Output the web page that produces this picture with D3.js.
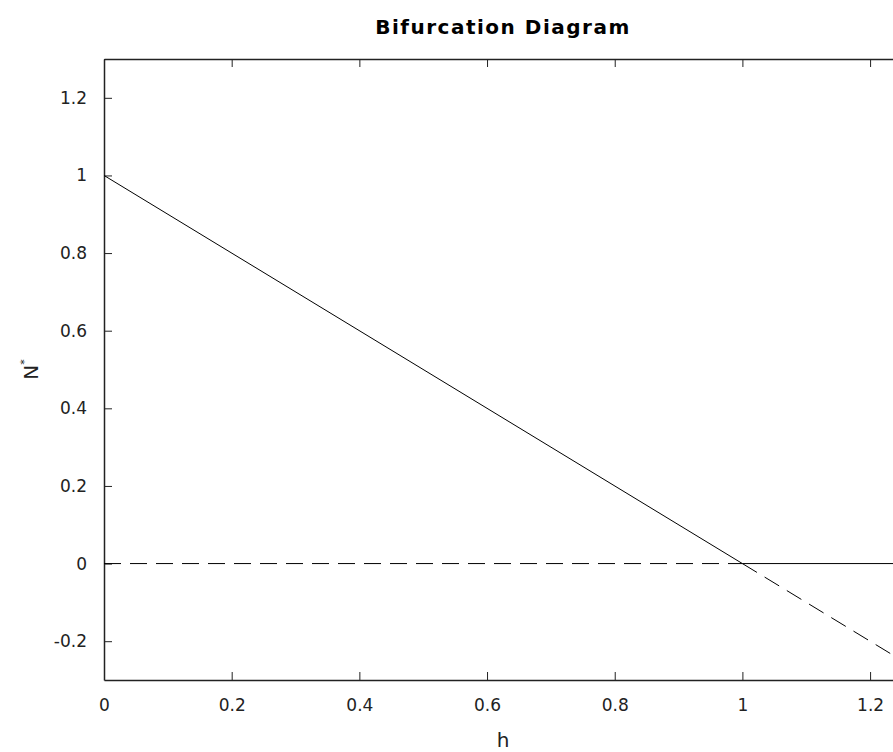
<!DOCTYPE html>
<html>
<head>
<meta charset="utf-8">
<script src="https://cdn.jsdelivr.net/npm/d3@7"></script>
<style>
  body { margin: 0; background: #fff; }
  svg { display: block; font-family: "DejaVu Sans", sans-serif; }
  .axis path, .axis line { stroke: #222; }
  .axis text { font-size: 17px; fill: #222; font-family: "DejaVu Sans", sans-serif; }
</style>
</head>
<body>
<div id="chart"></div>
<script>
/* bifurcation diagram: N* = 1 - h and N* = 0, stability swaps at h = 1 */

// branch data (h, N*)
const stableH = [0, 1],      stableN = [1, 0];       // N* = 1 - h, stable for h < 1
const unstableH = [1, 1.25], unstableN = [0, -0.25]; // N* = 1 - h, unstable for h > 1
const zeroUnstableH = [0, 1],    zeroUnstableN = [0, 0];
const zeroStableH = [1, 1.25],   zeroStableN = [0, 0];

const xTicks = [0, 0.2, 0.4, 0.6, 0.8, 1, 1.2];
const yTicks = [-0.2, 0, 0.2, 0.4, 0.6, 0.8, 1, 1.2];

let width = 893,
    height = 752,
    margin = ({ top: 59, right: -9, bottom: 72, left: 104 });

const svg = d3.select("#chart")
  .append("svg")
  .attr("width", width)
  .attr("height", height);

let x = d3.scaleLinear()
  .domain([0, 1.25])
  .range([margin.left, width - margin.right]);

let y = d3.scaleLinear()
  .domain([-0.3, 1.3])
  .range([height - margin.bottom, margin.top]);

let fmt = d => d === 0 ? "0" : String(d);

// bottom axis
svg.append("g")
  .attr("class", "axis")
  .attr("transform", `translate(0,${y(-0.3)})`)
  .call(d3.axisBottom(x).tickValues(xTicks).tickFormat(fmt).tickSizeInner(-8).tickSizeOuter(0).tickPadding(19))
  .call(g => g.select(".domain").attr("stroke-width", 1.5));

// top axis (ticks only)
svg.append("g")
  .attr("class", "axis")
  .attr("transform", `translate(0,${y(1.3)})`)
  .call(d3.axisTop(x).tickValues(xTicks).tickFormat("").tickSizeInner(-8).tickSizeOuter(0))
  .call(g => g.select(".domain").attr("stroke-width", 1.5));

// left axis
svg.append("g")
  .attr("class", "axis")
  .attr("transform", `translate(${x(0)},0)`)
  .call(d3.axisLeft(y).tickValues(yTicks).tickFormat(fmt).tickSizeInner(-8).tickSizeOuter(0).tickPadding(17))
  .call(g => g.select(".domain").attr("stroke-width", 1.5));

// right axis
svg.append("g")
  .attr("class", "axis")
  .attr("transform", `translate(${x(1.25)},0)`)
  .call(d3.axisRight(y).tickValues(yTicks).tickFormat("").tickSizeInner(-8).tickSizeOuter(0))
  .call(g => g.select(".domain").attr("stroke-width", 1.5));

let line = d3.line()
  .x(d => x(d[0]))
  .y(d => y(d[1]));

let branches = [
  { h: stableH, n: stableN, dash: null },
  { h: unstableH, n: unstableN, dash: "17,9" },
  { h: zeroUnstableH, n: zeroUnstableN, dash: "17,9" },
  { h: zeroStableH, n: zeroStableN, dash: null }
];

for (let b of branches) {
  svg.append("path")
    .datum(d3.zip(b.h, b.n))
    .attr("fill", "none")
    .attr("stroke", "#000")
    .attr("stroke-width", 1)
    .attr("stroke-dasharray", b.dash)
    .attr("d", line);
}

// title and labels
svg.append("text")
  .text("Bifurcation Diagram")
  .attr("x", (x(0) + x(1.25)) / 2)
  .attr("y", 34)
  .attr("text-anchor", "middle")
  .attr("font-size", 20)
  .attr("font-weight", "bold")
  .attr("letter-spacing", 1.5)
  .attr("fill", "#000");

svg.append("text")
  .text("h")
  .attr("x", (x(0) + x(1.25)) / 2)
  .attr("y", 747)
  .attr("text-anchor", "middle")
  .attr("font-size", 20)
  .attr("fill", "#222");

let yl = svg.append("text")
  .attr("transform", `translate(38,${(y(-0.3) + y(1.3)) / 2}) rotate(-90)`)
  .attr("text-anchor", "middle")
  .attr("font-size", 20)
  .attr("fill", "#222");
yl.append("tspan").text("N");
yl.append("tspan").text("*").attr("font-size", 11).attr("dy", -10);
</script>
</body>
</html>
